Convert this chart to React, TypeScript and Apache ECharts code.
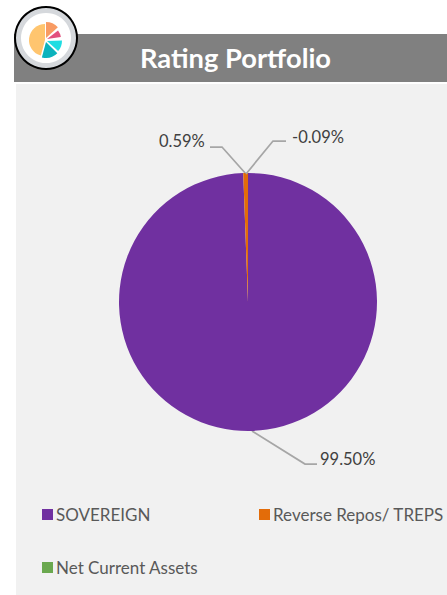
import React, { useEffect, useRef } from "react";
import * as echarts from "echarts";

const categories = ["SOVEREIGN", "Reverse Repos/ TREPS", "Net Current Assets"];
const shares = [99.5, 0.59, -0.09];
const shareLabels = ["99.50%", "0.59%", "-0.09%"];
const sliceColors = ["#7030A0", "#E36C09", "#6AA84F"];
const titleText = "Rating Portfolio";

// Badge wedges: start and end in degrees, outer radius, fill, centre offset
const badgeWedges: [number, number, number, string, number, number][] = [
  [-90, -42, 16, "#F89B63", 1, -2],
  [-38, -8, 14, "#E2507E", 2, -1],
  [-2, 42, 15, "#1FDDE2", 2, 1],
  [45, 105, 16, "#0BB3BD", 1, 2],
  [105, 270, 16, "#FFC56F", 0, 0],
];

const FONT = "Lato";
const LABEL_COLOR = "#404040";
const LEADER_COLOR = "#A6A6A6";

export default function App() {
  const ref = useRef<HTMLDivElement>(null);

  useEffect(() => {
    document.body.style.margin = "0";
    const chart = echarts.init(ref.current!, undefined, { renderer: "svg" });

    // Leader line and text position for each slice label
    const labelSpots = [
      { x: 320, y: 459, line: [[252, 431], [305, 464], [317, 464]] },
      { x: 159, y: 141, line: [[246, 174], [222, 147], [210, 147]] },
      { x: 292, y: 137, line: [[246, 174], [273, 141], [286, 141]] },
    ];

    const legendSpots = [
      { left: 42, top: 506 },
      { left: 259, top: 506 },
      { left: 42, top: 559 },
    ];

    chart.setOption({
      animation: false,
      backgroundColor: "#FFFFFF",
      title: {
        text: titleText,
        left: 140,
        top: 44,
        padding: 0,
        textStyle: { color: "#FFFFFF", fontFamily: FONT, fontSize: 27.3, fontWeight: "bold" },
      },
      legend: categories.map((name, i) => ({
        data: [{ name, itemStyle: { color: sliceColors[i] } }],
        left: legendSpots[i].left,
        top: legendSpots[i].top,
        padding: 0,
        icon: "rect",
        itemWidth: 11,
        itemHeight: 11,
        itemGap: 0,
        textStyle: { color: "#595959", fontFamily: FONT, fontSize: 17, padding: [0, 0, 0, -2] },
        selectedMode: false,
      })),
      graphic: [
        { type: "rect", z: 0, shape: { x: 16, y: 84, width: 431, height: 511 }, style: { fill: "#F1F1F1" } },
        { type: "rect", z: 0, shape: { x: 14, y: 34, width: 433, height: 48 }, style: { fill: "#808080" } },
        { type: "circle", z: 10, shape: { cx: 46, cy: 38, r: 32 }, style: { fill: "#000000" } },
        { type: "circle", z: 10, shape: { cx: 46, cy: 38, r: 30 }, style: { fill: "#D5D8DC" } },
        { type: "circle", z: 10, shape: { cx: 46, cy: 38, r: 25 }, style: { fill: "#FFFFFF" } },
        ...badgeWedges.map(([a, b, r, fill, dx, dy]) => ({
          type: "sector",
          z: 11,
          shape: {
            cx: 45 + dx,
            cy: 40 + dy,
            r,
            r0: 0,
            startAngle: (a * Math.PI) / 180,
            endAngle: (b * Math.PI) / 180,
          },
          style: { fill },
        })),
        // The negative share has no wedge, so its callout is drawn beside the pie
        {
          type: "polyline",
          z: 6,
          shape: { points: labelSpots[2].line },
          style: { stroke: LEADER_COLOR, lineWidth: 1.75, fill: "none" },
        },
        {
          type: "text",
          z: 6,
          x: labelSpots[2].x,
          y: labelSpots[2].y,
          style: {
            text: shareLabels[2],
            fill: LABEL_COLOR,
            font: `16.5px ${FONT}`,
            textAlign: "left",
            textVerticalAlign: "middle",
          },
        },
      ],
      series: [
        {
          type: "pie",
          center: [248, 302],
          radius: [0, 129],
          startAngle: 90,
          avoidLabelOverlap: false,
          z: 5,
          data: categories.map((name, i) => ({
            name,
            value: shares[i],
            itemStyle: { color: sliceColors[i] },
          })),
          label: {
            show: true,
            formatter: (p: any) => shareLabels[p.dataIndex],
            color: LABEL_COLOR,
            fontFamily: FONT,
            fontSize: 16.5,
          },
          labelLine: {
            show: true,
            lineStyle: { color: LEADER_COLOR, width: 1.75 },
          },
          labelLayout: (p: any) => {
            const spot = labelSpots[p.dataIndex];
            return {
              x: spot.x,
              y: spot.y,
              align: "left",
              verticalAlign: "middle",
              labelLinePoints: spot.line,
            };
          },
        },
      ],
    });

    return () => chart.dispose();
  }, []);

  return <div ref={ref} style={{ width: 447, height: 595 }} />;
}
